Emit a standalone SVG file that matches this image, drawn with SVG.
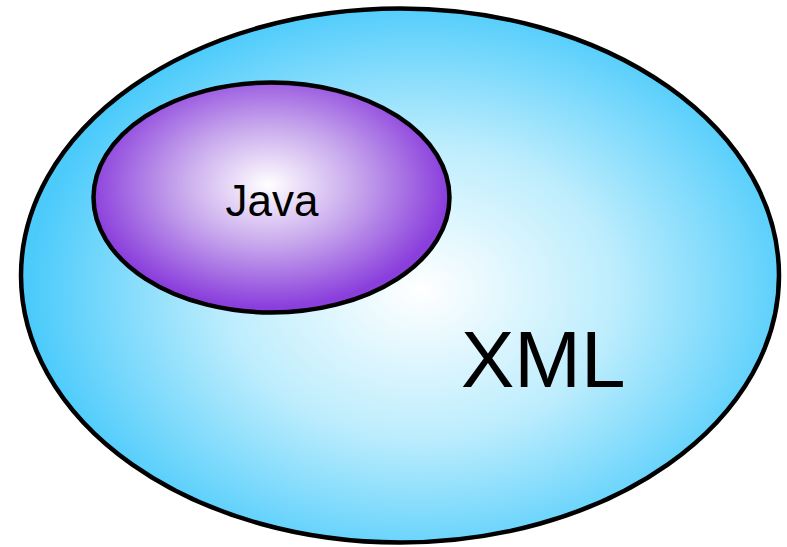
<svg xmlns="http://www.w3.org/2000/svg" width="787" height="547" viewBox="0 0 787 547">
<defs>
<radialGradient id="gOuter" gradientUnits="userSpaceOnUse" cx="420" cy="290" r="390" gradientTransform="translate(420 290) scale(1 0.75) translate(-420 -290)">
<stop offset="0" stop-color="#ffffff"/>
<stop offset="0.5" stop-color="#bdedfd"/>
<stop offset="1" stop-color="#4ccbfb"/>
</radialGradient>
<radialGradient id="gInner" gradientUnits="userSpaceOnUse" cx="268" cy="185" r="180" gradientTransform="translate(268 185) scale(1 0.68) translate(-268 -185)">
<stop offset="0" stop-color="#ffffff"/>
<stop offset="0.5" stop-color="#c6a5ec"/>
<stop offset="1" stop-color="#8a3edc"/>
</radialGradient>
</defs>
<style>
.shape{stroke:#000;stroke-width:4.5}
.lbl{font-family:"Liberation Sans",Arial,sans-serif;fill:#000}
</style>
<g id="xml">
<ellipse class="shape" cx="400" cy="275.5" rx="379" ry="267" fill="url(#gOuter)"/>
<text class="lbl" x="461" y="387" font-size="80">XML</text>
</g>
<g id="java">
<ellipse class="shape" cx="271.5" cy="197.5" rx="178" ry="115" fill="url(#gInner)"/>
<text class="lbl" x="272" y="216" font-size="44" text-anchor="middle">Java</text>
</g>
<g id="connectors"/>
</svg>
